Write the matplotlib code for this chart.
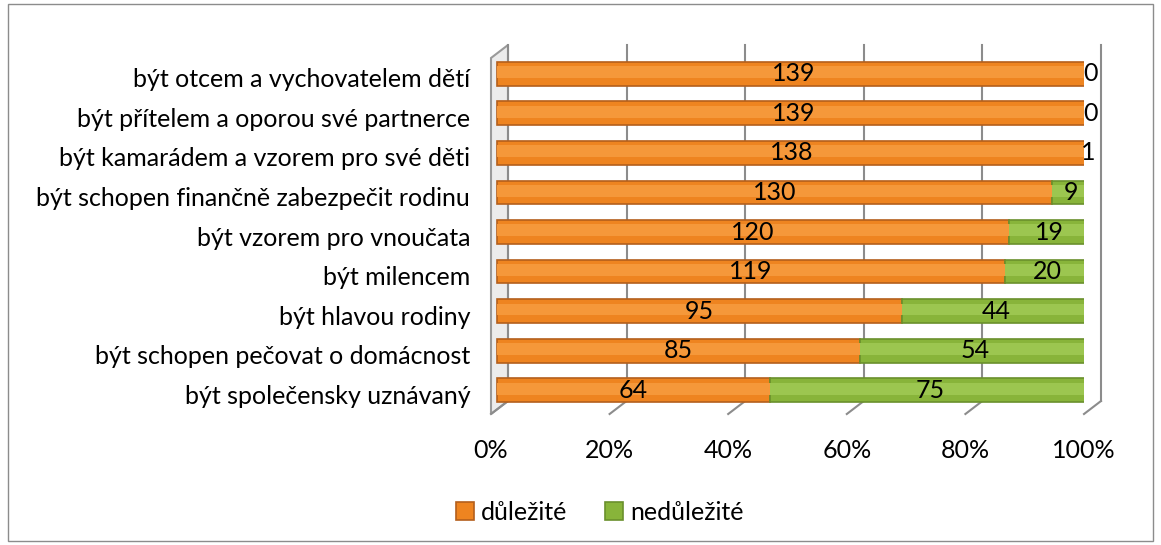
import matplotlib.pyplot as plt
import matplotlib.transforms as mtransforms
from matplotlib.patches import Rectangle, Polygon

# kategorie odshora dolu
kategorie = [
    "být otcem a vychovatelem dětí",
    "být přítelem a oporou své partnerce",
    "být kamarádem a vzorem pro své děti",
    "být schopen finančně zabezpečit rodinu",
    "být vzorem pro vnoučata",
    "být milencem",
    "být hlavou rodiny",
    "být schopen pečovat o domácnost",
    "být společensky uznávaný",
]
dulezite = [139, 139, 138, 130, 120, 119, 95, 85, 64]
nedulezite = [0, 0, 1, 9, 19, 20, 44, 54, 75]
procenta = [0, 20, 40, 60, 80, 100]

plt.rcParams['font.family'] = ['Lato', 'DejaVu Sans']
fs = 18
W, H = 1161, 545

fig = plt.figure(figsize=(W / 100, H / 100), dpi=100)
fig.patches.append(Rectangle((0.007, 0.008), 0.986, 0.984, transform=fig.transFigure,
                             fill=False, edgecolor='#8c8c8c', linewidth=1, zorder=-5))
ax = fig.add_axes([491 / W, 1 - 414 / H, 593 / W, 356 / H])
ax.set_facecolor('none')

n = len(kategorie)
y = [n - 1 - i for i in range(n)]
celkem = [a + b for a, b in zip(dulezite, nedulezite)]
p1 = [a / c * 100 for a, c in zip(dulezite, celkem)]
p2 = [b / c * 100 for b, c in zip(nedulezite, celkem)]

ax.set_xlim(0, 100)
ax.set_ylim(-0.5, n - 0.5)

# posuny do hloubky (v pixelech)
def posun(dx, dy):
    return mtransforms.offset_copy(ax.transData, fig=fig, x=dx, y=dy, units='dots')

stred = posun(6, 4)
zpet = posun(17, 13)
sedy = '#8c8c8c'

# leva stena
lb = ax.transData.transform((0, -0.5))
lt = ax.transData.transform((0, n - 0.5))
stena = [(lb[0], lb[1]), (lt[0], lt[1]), (lt[0] + 17, lt[1] + 13), (lb[0] + 17, lb[1] + 13)]
fig.patches.append(Polygon([(px / W, py / H) for px, py in stena], transform=fig.transFigure,
                           facecolor='#ececec', edgecolor='#9a9a9a', lw=1.5, zorder=-1))

# mrizka na zadni stene a podlaha
for p in procenta:
    ax.plot([p, p], [-0.5, n - 0.5], transform=zpet, color=sedy, lw=1.5, zorder=1, clip_on=False)
    b = ax.transData.transform((p, -0.5))
    ax.plot([b[0], b[0] + 17], [b[1], b[1] + 13], transform=None, color=sedy, lw=1.5,
            zorder=1, clip_on=False)

b1 = ax.barh(y, p1, height=0.6, color='#EE8420', edgecolor='#B45F1C', linewidth=1.2,
             label='důležité', zorder=3, transform=stred)
b2 = ax.barh(y, p2, left=p1, height=0.6, color='#88B43A', edgecolor='#6A902C', linewidth=1.2,
             label='nedůležité', zorder=3, transform=stred)
# svetlejsi pruh (valcovy efekt)
ax.barh([v + 0.04 for v in y], p1, height=0.3, color='#F5983A', linewidth=0, zorder=3.5,
        transform=stred)
ax.barh([v + 0.04 for v in y], p2, left=p1, height=0.3, color='#9CC650', linewidth=0,
        zorder=3.5, transform=stred)

for yy, a, b, pa in zip(y, dulezite, nedulezite, p1):
    ax.text(pa / 2, yy, str(a), ha='center', va='center', fontsize=fs, zorder=4, transform=stred)
    ax.text(pa + (100 - pa) / 2, yy, str(b), ha='center', va='center', fontsize=fs, zorder=4,
            transform=stred)

ax.set_yticks(y)
ax.set_yticklabels(kategorie, fontsize=fs)
ax.set_xticks(procenta)
ax.set_xticklabels([f'{p}%' for p in procenta], fontsize=fs)
ax.tick_params(axis='y', length=0, pad=15)
ax.tick_params(axis='x', length=0, pad=18)
for s in ax.spines.values():
    s.set_visible(False)

fig.legend(handles=[b1, b2], loc='center', bbox_to_anchor=(600 / W, 1 - 512 / H), ncol=2,
           frameon=False, fontsize=fs, handlelength=0.7, handleheight=0.7,
           columnspacing=1.5, handletextpad=0.3)

plt.savefig('out.png', dpi=100)
